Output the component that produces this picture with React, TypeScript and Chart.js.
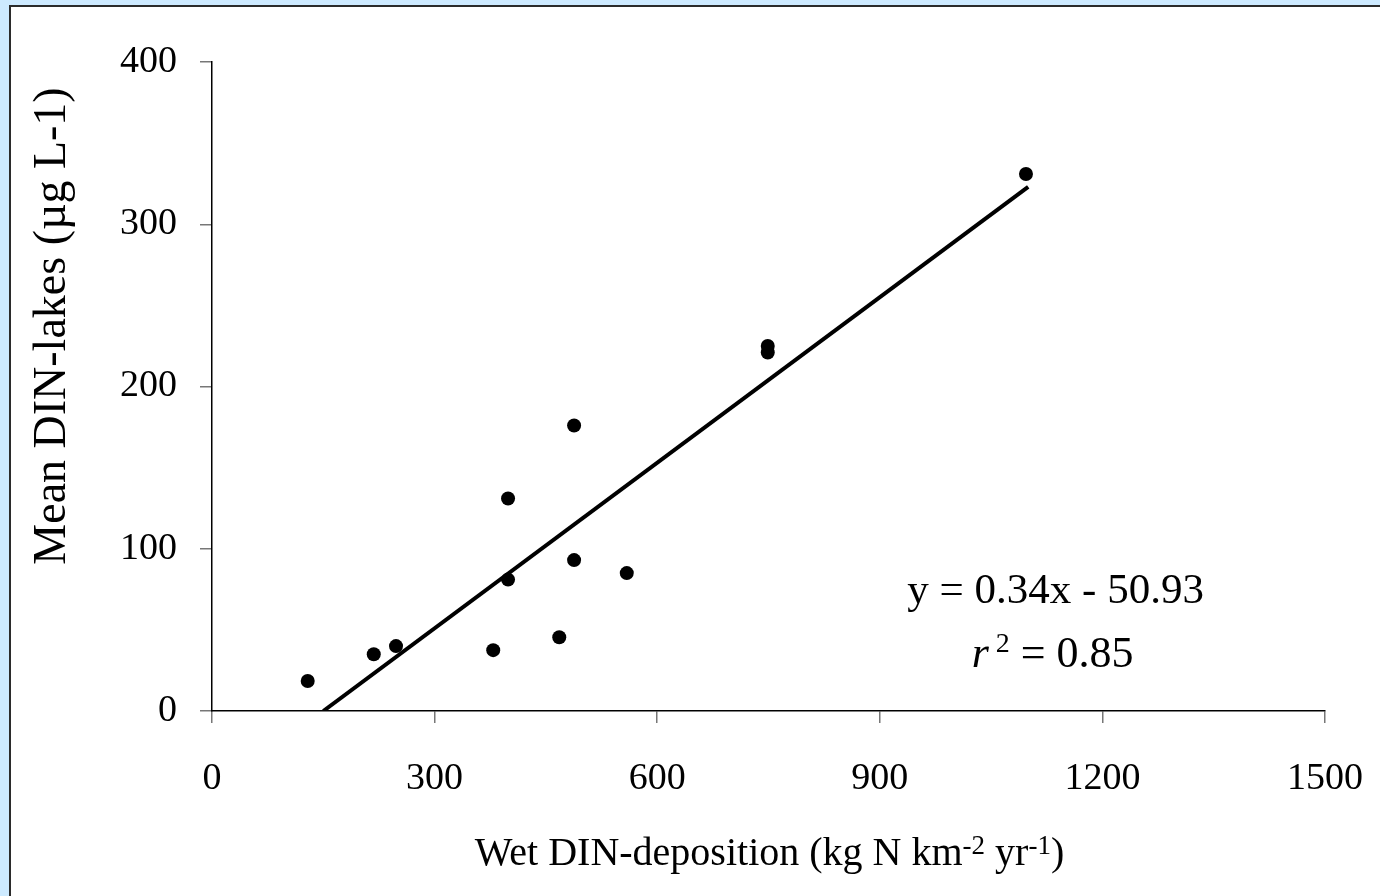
import React, { useEffect, useRef } from "react";
import { Chart, registerables } from "chart.js";

Chart.register(...registerables);

// Observed data: wet DIN deposition (kg N km-2 yr-1) vs mean lake DIN (µg L-1)
const depositionX = [129, 218, 248, 379, 399, 399, 468, 488, 488, 559, 749, 749, 1097];
const dinLakesY = [18.5, 35, 40, 37.5, 81, 131, 45.5, 93, 176, 85, 225, 221, 331];

// Regression line end points (y = 0.34x - 50.93)
const trendX = [150, 1100];
const trendY = [0, 323];

const xTickValues = [0, 300, 600, 900, 1200, 1500];
const yTickValues = [0, 100, 200, 300, 400];

const xTitleParts = [
  { text: "Wet DIN-deposition (kg N km", sup: false },
  { text: "-2", sup: true },
  { text: " yr", sup: false },
  { text: "-1", sup: true },
  { text: ")", sup: false },
];
const yTitle = "Mean DIN-lakes (µg L-1)";
const equationText = "y = 0.34x - 50.93";
const r2Parts = [
  { text: "r", sup: false, italic: true },
  { text: " 2", sup: true, italic: false },
  { text: " = 0.85", sup: false, italic: false },
];

const FONT = "'Liberation Serif', 'Times New Roman', serif";
const TICK = 38;

type Part = { text: string; sup: boolean; italic?: boolean };

function drawParts(
  ctx: CanvasRenderingContext2D,
  parts: Part[],
  cx: number,
  baseline: number,
  raise: number,
  main: number,
  sup: number
) {
  const fontFor = (p: Part) => `${p.italic ? "italic " : ""}${p.sup ? sup : main}px ${FONT}`;
  let total = 0;
  for (const p of parts) {
    ctx.font = fontFor(p);
    total += ctx.measureText(p.text).width;
  }
  let x = cx - total / 2;
  ctx.textAlign = "left";
  ctx.textBaseline = "alphabetic";
  for (const p of parts) {
    ctx.font = fontFor(p);
    ctx.fillText(p.text, x, p.sup ? baseline - raise : baseline);
    x += ctx.measureText(p.text).width;
  }
}

const textPlugin = {
  id: "customTexts",
  afterDraw(chart: any) {
    const ctx: CanvasRenderingContext2D = chart.ctx;
    const area = chart.chartArea;
    ctx.save();
    ctx.fillStyle = "#000";
    // x-axis title
    drawParts(ctx, xTitleParts, (area.left + area.right) / 2 + 1, area.bottom + 154, 11, 40, 27);
    // y-axis title
    ctx.save();
    ctx.translate(42, area.top + 264);
    ctx.rotate(-Math.PI / 2);
    ctx.font = `46px ${FONT}`;
    ctx.textAlign = "center";
    ctx.textBaseline = "middle";
    ctx.fillText(yTitle, 0, 0);
    ctx.restore();
    // regression equation
    const eqX = area.left + (area.right - area.left) * 0.758;
    ctx.font = `43px ${FONT}`;
    ctx.textAlign = "center";
    ctx.textBaseline = "alphabetic";
    ctx.fillText(equationText, eqX, area.top + 541);
    drawParts(ctx, r2Parts, eqX - 3, area.top + 605, 15, 44, 28);
    ctx.restore();
  },
};

export default function App() {
  const canvasRef = useRef<HTMLCanvasElement | null>(null);

  useEffect(() => {
    const canvas = canvasRef.current;
    if (!canvas) return;
    const tickFont = { family: FONT, size: TICK };
    const chart = new Chart(canvas, {
      type: "scatter",
      data: {
        datasets: [
          {
            label: "Lakes",
            data: depositionX.map((x, i) => ({ x, y: dinLakesY[i] })),
            backgroundColor: "#000",
            borderColor: "#000",
            borderWidth: 0,
            pointRadius: 7,
            pointHoverRadius: 7,
          },
          {
            label: "Regression",
            type: "line",
            data: trendX.map((x, i) => ({ x, y: trendY[i] })),
            borderColor: "#000",
            borderWidth: 4,
            pointRadius: 0,
            fill: false,
          } as any,
        ],
      },
      options: {
        responsive: false,
        animation: false,
        devicePixelRatio: 1,
        layout: { padding: { top: 55, right: 55, left: 0, bottom: 0 } },
        plugins: {
          legend: { display: false },
          tooltip: { enabled: false },
          title: { display: false },
        },
        scales: {
          x: {
            type: "linear",
            min: 0,
            max: 1500,
            afterBuildTicks: (scale: any) => {
              scale.ticks = xTickValues.map((v) => ({ value: v }));
            },
            afterFit: (scale: any) => {
              scale.height = 185;
              scale.paddingLeft = 0;
              scale.paddingRight = 0;
            },
            ticks: {
              font: tickFont,
              color: "#000",
              padding: 33,
              maxRotation: 0,
              callback: (v: any) => String(v),
            },
            grid: { drawOnChartArea: false, drawTicks: true, tickLength: 12, color: "#777", lineWidth: 1.5 },
            border: { display: true, color: "#000", width: 1.5 },
          },
          y: {
            type: "linear",
            min: 0,
            max: 400,
            afterBuildTicks: (scale: any) => {
              scale.ticks = yTickValues.map((v) => ({ value: v }));
            },
            afterFit: (scale: any) => {
              scale.width = 201;
              scale.paddingTop = 0;
              scale.paddingBottom = 0;
            },
            ticks: { font: tickFont, color: "#000", padding: 23, callback: (v: any) => String(v) },
            grid: { drawOnChartArea: false, drawTicks: true, tickLength: 12, color: "#777", lineWidth: 1.5 },
            border: { display: true, color: "#000", width: 1.5 },
          },
        },
      },
      plugins: [textPlugin],
    });
    return () => chart.destroy();
  }, []);

  return (
    <div
      style={{
        position: "fixed",
        left: 0,
        top: 0,
        width: 1380,
        height: 896,
        background: "#cdeaff",
        overflow: "hidden",
      }}
    >
      <div
        style={{
          position: "absolute",
          left: 9,
          top: 5,
          width: 1371,
          height: 891,
          borderLeft: "2px solid #2b2b2b",
          borderTop: "2px solid #2b2b2b",
          background: "#fff",
          boxSizing: "border-box",
        }}
      >
        <canvas
          ref={canvasRef}
          width={1369}
          height={889}
          style={{ position: "absolute", left: 0, top: 0, width: 1369, height: 889 }}
        />
      </div>
    </div>
  );
}
